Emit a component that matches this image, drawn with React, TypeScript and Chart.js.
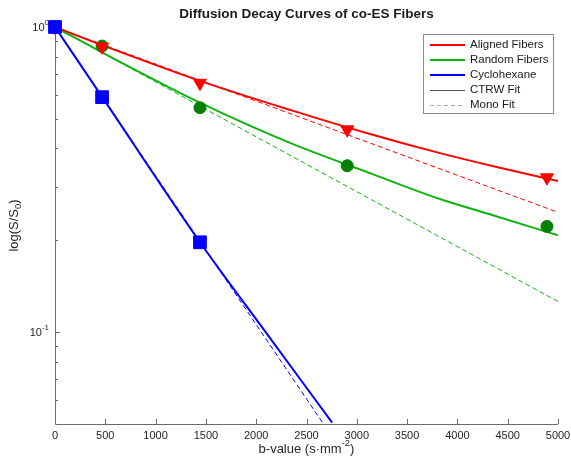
import React, { useEffect, useRef } from "react";
import { Chart, registerables } from "chart.js";

Chart.register(...registerables);

// ---- Data ----
const titleText = "Diffusion Decay Curves of co-ES Fibers";
const xTicks = [0, 500, 1000, 1500, 2000, 2500, 3000, 3500, 4000, 4500, 5000];
const yMajorTicks = [1, 0.1];
const yMinorTicks = [0.9, 0.8, 0.7, 0.6, 0.5, 0.4, 0.3, 0.2, 0.09, 0.08, 0.07, 0.06];

const bValues = [0, 468, 1441, 2905, 4890];
const alignedData = [1.0, 0.862, 0.655, 0.461, 0.321];
const randomData = [1.0, 0.866, 0.544, 0.351, 0.222];
const cycloB = [0, 468, 1441];
const cycloData = [1.0, 0.589, 0.197];

const fitB = [0, 467, 1441, 2336, 3131, 3827, 4400, 5000];
const alignedCtrw = [1, 0.872, 0.666, 0.535, 0.446, 0.386, 0.347, 0.313];
const randomCtrw = [1, 0.826, 0.565, 0.417, 0.332, 0.273, 0.239, 0.2075];

const monoB = [0, 5000];
const alignedMono = [1, 0.247];
const randomMono = [1, 0.126];

const cycloCtrwB = [0, 468, 1441, 2094, 2755];
const cycloCtrw = [1, 0.59, 0.197, 0.1, 0.0505];
const cycloMonoB = [0, 2660];
const cycloMono = [1, 0.0505];

const legendItems = [
  { label: "Aligned Fibers", color: "#ff0000", width: 2, dash: [] as number[] },
  { label: "Random Fibers", color: "#10b410", width: 2, dash: [] as number[] },
  { label: "Cyclohexane", color: "#0000ff", width: 2, dash: [] as number[] },
  { label: "CTRW Fit", color: "#555555", width: 1, dash: [] as number[] },
  { label: "Mono Fit", color: "#aaaaaa", width: 1, dash: [4, 3] },
];

const RED = "#ff0000";
const GREEN = "#10b410";
const DKGREEN = "#008000";
const BLUE = "#0000ff";
const FONT = '"Liberation Sans", Arial, Helvetica, sans-serif';

const pts = (xs: number[], ys: number[]) => xs.map((x, i) => ({ x, y: ys[i] }));

function drawSup(ctx: CanvasRenderingContext2D, base: string, sup: string, xRight: number, y: number) {
  ctx.font = `11px ${FONT}`;
  const wb = ctx.measureText(base).width;
  ctx.font = `8px ${FONT}`;
  const ws = ctx.measureText(sup).width;
  const x0 = xRight - wb - ws;
  ctx.textAlign = "left";
  ctx.textBaseline = "middle";
  ctx.font = `11px ${FONT}`;
  ctx.fillText(base, x0, y + 1);
  ctx.font = `8px ${FONT}`;
  ctx.fillText(sup, x0 + wb, y - 4);
}

const axesPlugin = {
  id: "matlabAxes",
  beforeDatasetsDraw(chart: any) {
    const ctx: CanvasRenderingContext2D = chart.ctx;
    const { left, right, top, bottom } = chart.chartArea;
    const xs = chart.scales.x;
    const ys = chart.scales.y;
    ctx.save();
    ctx.strokeStyle = "#6a6a6a";
    ctx.lineWidth = 1;
    ctx.beginPath();
    ctx.moveTo(left + 0.5, top);
    ctx.lineTo(left + 0.5, bottom + 0.5);
    ctx.lineTo(right, bottom + 0.5);
    ctx.stroke();
    ctx.beginPath();
    xTicks.forEach((v) => {
      const px = Math.round(xs.getPixelForValue(v)) + 0.5;
      ctx.moveTo(px, bottom);
      ctx.lineTo(px, bottom - 5);
    });
    yMajorTicks.forEach((v) => {
      const py = Math.round(ys.getPixelForValue(v)) + 0.5;
      ctx.moveTo(left, py);
      ctx.lineTo(left + 5, py);
    });
    yMinorTicks.forEach((v) => {
      const py = Math.round(ys.getPixelForValue(v)) + 0.5;
      ctx.moveTo(left, py);
      ctx.lineTo(left + 3, py);
    });
    ctx.stroke();

    ctx.fillStyle = "#262626";
    ctx.font = `11px ${FONT}`;
    ctx.textAlign = "center";
    ctx.textBaseline = "middle";
    xTicks.forEach((v) => {
      ctx.fillText(String(v), xs.getPixelForValue(v), bottom + 12);
    });
    drawSup(ctx, "10", "0", left - 6, ys.getPixelForValue(1));
    drawSup(ctx, "10", "-1", left - 6, ys.getPixelForValue(0.1));

    // title
    ctx.font = `bold 13.5px ${FONT}`;
    ctx.textAlign = "center";
    ctx.fillStyle = "#1a1a1a";
    ctx.fillText(titleText, (left + right) / 2, 14);

    // x title with superscript
    const MF = `13px ${FONT}`;
    const SF = `9.5px ${FONT}`;
    ctx.font = MF;
    const xa = "b-value (s\u00b7mm";
    const xsup = "-2";
    const xb = ")";
    const wa = ctx.measureText(xa).width;
    const wc = ctx.measureText(xb).width;
    ctx.font = SF;
    const wsup = ctx.measureText(xsup).width;
    const x0 = (left + right) / 2 - (wa + wsup + wc) / 2;
    const yT = 449;
    ctx.textAlign = "left";
    ctx.fillStyle = "#262626";
    ctx.font = MF;
    ctx.fillText(xa, x0, yT);
    ctx.font = SF;
    ctx.fillText(xsup, x0 + wa, yT - 6);
    ctx.font = MF;
    ctx.fillText(xb, x0 + wa + wsup, yT);

    // y title with subscript
    ctx.save();
    ctx.translate(14, (top + bottom) / 2);
    ctx.rotate(-Math.PI / 2);
    const ya = "log(S/S";
    const ysub = "0";
    const yb = ")";
    ctx.font = MF;
    const wya = ctx.measureText(ya).width;
    const wyb = ctx.measureText(yb).width;
    ctx.font = SF;
    const wysub = ctx.measureText(ysub).width;
    const y0 = -(wya + wysub + wyb) / 2;
    ctx.font = MF;
    ctx.fillText(ya, y0, 0);
    ctx.font = SF;
    ctx.fillText(ysub, y0 + wya, 4);
    ctx.font = MF;
    ctx.fillText(yb, y0 + wya + wysub, 0);
    ctx.restore();
    ctx.restore();
  },
  afterDraw(chart: any) {
    const ctx: CanvasRenderingContext2D = chart.ctx;
    ctx.save();
    const bx = 423.5, by = 34.5, bw = 130, bh = 79;
    ctx.fillStyle = "#ffffff";
    ctx.fillRect(bx, by, bw, bh);
    ctx.strokeStyle = "#8c8c8c";
    ctx.lineWidth = 1;
    ctx.strokeRect(bx, by, bw, bh);
    const rowY = [45, 59.5, 74.5, 90, 105];
    legendItems.forEach((it, i) => {
      ctx.beginPath();
      ctx.strokeStyle = it.color;
      ctx.lineWidth = it.width;
      ctx.setLineDash(it.dash);
      const yy = it.width === 1 ? Math.round(rowY[i]) + 0.5 : Math.round(rowY[i]);
      ctx.moveTo(430, yy);
      ctx.lineTo(465, yy);
      ctx.stroke();
      ctx.setLineDash([]);
      ctx.fillStyle = "#1a1a1a";
      ctx.font = `11.5px ${FONT}`;
      ctx.textAlign = "left";
      ctx.textBaseline = "middle";
      ctx.fillText(it.label, 470, rowY[i]);
    });
    ctx.restore();
  },
};

export default function App() {
  const ref = useRef<HTMLCanvasElement | null>(null);
  useEffect(() => {
    if (!ref.current) return;
    const lineDs = (label: string, data: any[], color: string, width: number, dash: number[], order: number) => ({
      label,
      data,
      showLine: true,
      borderColor: color,
      backgroundColor: color,
      borderWidth: width,
      borderDash: dash,
      pointRadius: 0,
      pointHoverRadius: 0,
      cubicInterpolationMode: "monotone",
      order,
    });
    const markerDs = (label: string, data: any[], color: string, style: string, radius: number, rotation: number, order: number) => ({
      label,
      data,
      showLine: false,
      pointStyle: style,
      pointRadius: radius,
      pointRotation: rotation,
      pointBackgroundColor: color,
      pointBorderColor: color,
      pointBorderWidth: 1,
      clip: false,
      order,
    });
    const chart = new Chart(ref.current, {
      type: "scatter",
      data: {
        datasets: [
          markerDs("Cyclohexane data", pts(cycloB, cycloData), BLUE, "rect", 9, 0, 0),
          markerDs("Aligned data", pts(bValues, alignedData), RED, "triangle", 7.5, 180, 1),
          markerDs("Random data", pts(bValues, randomData), DKGREEN, "circle", 6, 0, 2),
          lineDs("Cyclohexane CTRW", pts(cycloCtrwB, cycloCtrw), BLUE, 2, [], 3),
          lineDs("Aligned CTRW", pts(fitB, alignedCtrw), RED, 2, [], 4),
          lineDs("Random CTRW", pts(fitB, randomCtrw), GREEN, 2, [], 5),
          lineDs("Cyclohexane Mono", pts(cycloMonoB, cycloMono), BLUE, 1, [5, 3], 6),
          lineDs("Aligned Mono", pts(monoB, alignedMono), RED, 1, [5, 3], 7),
          lineDs("Random Mono", pts(monoB, randomMono), GREEN, 1, [5, 3], 8),
        ] as any,
      },
      options: {
        animation: false,
        responsive: false,
        devicePixelRatio: 1,
        layout: { padding: { left: 55, top: 27, right: 13, bottom: 35 } },
        scales: {
          x: { type: "linear", min: 0, max: 5000, display: false },
          y: { type: "logarithmic", min: 0.05, max: 1, display: false },
        },
        plugins: {
          legend: { display: false },
          tooltip: { enabled: false },
          title: { display: false },
        },
        events: [],
      } as any,
      plugins: [axesPlugin],
    });
    return () => chart.destroy();
  }, []);
  return (
    <div style={{ position: "absolute", left: 0, top: 0, width: 571, height: 459, background: "#fff" }}>
      <canvas ref={ref} width={571} height={459} style={{ display: "block" }} />
    </div>
  );
}
